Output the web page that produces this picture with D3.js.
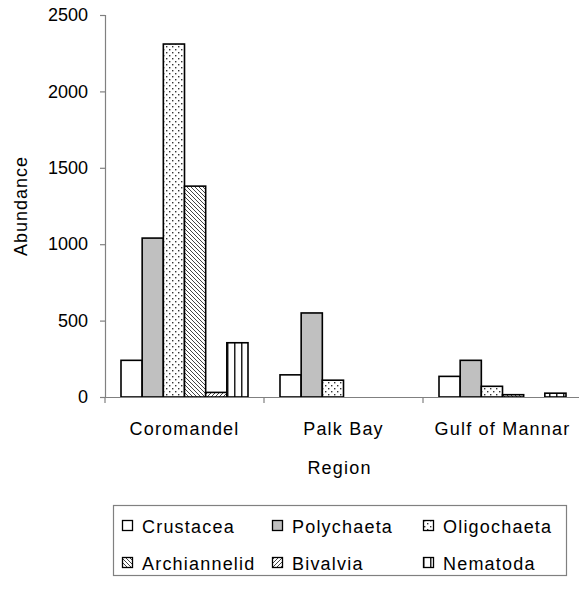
<!DOCTYPE html>
<html>
<head>
<meta charset="utf-8">
<script src="https://cdn.jsdelivr.net/npm/d3@7"></script>
<style>
  html, body { margin: 0; padding: 0; background: #fff; }
  svg text { font-family: "Liberation Sans", Arial, sans-serif; fill: #000; }
</style>
</head>
<body>
<svg id="chart" width="579" height="590"></svg>
<script>
const regions = ["Coromandel", "Palk Bay", "Gulf of Mannar"];
const taxa = ["Crustacea", "Polychaeta", "Oligochaeta", "Archiannelid", "Bivalvia", "Nematoda"];
const crustacea    = [240, 145, 135];
const polychaeta   = [1040, 550, 240];
const oligochaeta  = [2310, 110, 70];
const archiannelid = [1380, 0, 15];
const bivalvia     = [30, 0, 0];
const nematoda     = [355, 0, 25];
const yTicks = [0, 500, 1000, 1500, 2000, 2500];

const series = [crustacea, polychaeta, oligochaeta, archiannelid, bivalvia, nematoda];

(function () {
const svg = d3.select("#chart");
const defs = svg.append("defs");

const pDots = defs.append("pattern").attr("id", "p-olig").attr("patternUnits", "userSpaceOnUse")
  .attr("width", 6).attr("height", 6);
pDots.append("rect").attr("width", 6).attr("height", 6).attr("fill", "#fff");
pDots.append("rect").attr("x", 1).attr("y", 1).attr("width", 1.4).attr("height", 1.4).attr("fill", "#333");
pDots.append("rect").attr("x", 4).attr("y", 4).attr("width", 1.4).attr("height", 1.4).attr("fill", "#333");

const pArch = defs.append("pattern").attr("id", "p-arch").attr("patternUnits", "userSpaceOnUse")
  .attr("width", 4).attr("height", 4);
pArch.append("rect").attr("width", 4).attr("height", 4).attr("fill", "#fff");
pArch.append("path").attr("d", "M-1,-1 L5,5 M-1,3 L1,5 M3,-1 L5,1").attr("stroke", "#444").attr("stroke-width", 1);

const pBiv = defs.append("pattern").attr("id", "p-biv").attr("patternUnits", "userSpaceOnUse")
  .attr("width", 4).attr("height", 4);
pBiv.append("rect").attr("width", 4).attr("height", 4).attr("fill", "#fff");
pBiv.append("path").attr("d", "M-1,5 L5,-1 M-1,1 L1,-1 M3,5 L5,3").attr("stroke", "#444").attr("stroke-width", 1);

const pNem = defs.append("pattern").attr("id", "p-nem").attr("patternUnits", "userSpaceOnUse")
  .attr("width", 7).attr("height", 7);
pNem.append("rect").attr("width", 7).attr("height", 7).attr("fill", "#fff");
pNem.append("rect").attr("x", 3).attr("y", 0).attr("width", 1.5).attr("height", 7).attr("fill", "#222");

const fills = ["#ffffff", "#c0c0c0", "url(#p-olig)", "url(#p-arch)", "url(#p-biv)", "url(#p-nem)"];

const mLeft = 105, mRight = 582, mTop = 15, mBottom = 397;

const y = d3.scaleLinear().domain([0, 2500]).range([mBottom, mTop]);
const x0 = d3.scaleBand().domain(regions).range([mLeft, mRight]).paddingInner(0).paddingOuter(0);
const x1 = d3.scaleBand().domain(taxa).range([16, x0.bandwidth() - 16]).padding(0);

const g = svg.append("g");
regions.forEach((r, ri) => {
  taxa.forEach((t, ti) => {
    const v = series[ti][ri];
    if (v <= 0) return;
    g.append("rect")
      .attr("x", x0(r) + x1(t))
      .attr("y", y(v))
      .attr("width", x1.bandwidth())
      .attr("height", mBottom - y(v))
      .attr("fill", fills[ti])
      .attr("stroke", "#000")
      .attr("stroke-width", 1.6);
  });
});

// y axis
const yAxis = svg.append("g").attr("transform", `translate(${mLeft},0)`)
  .call(d3.axisLeft(y).tickValues(yTicks).tickFormat(d3.format("d")).tickSize(5).tickPadding(12));
yAxis.select(".domain").attr("stroke", "#808080").attr("stroke-width", 1.2);
yAxis.selectAll(".tick line").attr("stroke", "#808080").attr("stroke-width", 1.2);
yAxis.selectAll(".tick text").attr("font-size", 18).attr("fill", "#000")
  .attr("font-family", "Liberation Sans, Arial, sans-serif");

// x axis
const xAxis = svg.append("g").attr("transform", `translate(0,${mBottom})`)
  .call(d3.axisBottom(x0).tickSize(0).tickPadding(0));
xAxis.select(".domain").attr("stroke", "#808080").attr("stroke-width", 1.2);
xAxis.selectAll(".tick text").attr("font-size", 18).attr("fill", "#000")
  .attr("letter-spacing", "1.2px")
  .attr("dy", null).attr("y", 38)
  .attr("font-family", "Liberation Sans, Arial, sans-serif");
const bounds = regions.map(r => x0(r)).concat([mRight]);
xAxis.selectAll(".bnd").data(bounds).enter().append("line")
  .attr("x1", d => d).attr("x2", d => d).attr("y1", 0).attr("y2", 6)
  .attr("stroke", "#808080").attr("stroke-width", 1.2);

// axis titles
svg.append("text").attr("x", (mLeft + mRight) / 2 - 4).attr("y", 474)
  .attr("text-anchor", "middle").attr("font-size", 18).attr("letter-spacing", "1.2px").text("Region");
svg.append("text").attr("transform", `translate(27,${(mTop + mBottom) / 2}) rotate(-90)`)
  .attr("text-anchor", "middle").attr("font-size", 18).attr("letter-spacing", "1px").text("Abundance");

// legend
const lg = svg.append("g");
lg.append("rect").attr("x", 113.5).attr("y", 505.5).attr("width", 453).attr("height", 70)
  .attr("fill", "#fff").attr("stroke", "#808080").attr("stroke-width", 1.2);
const colX = [122, 272, 423];
const rowY = [526, 563];
taxa.forEach((t, i) => {
  const cx = colX[i % 3], cy = rowY[Math.floor(i / 3)];
  lg.append("rect").attr("x", cx + 0.5).attr("y", cy - 5.5).attr("width", 10).attr("height", 10)
    .attr("fill", fills[i]).attr("stroke", "#000").attr("stroke-width", 1.3);
  lg.append("text").attr("x", cx + 20).attr("y", cy + 6.5).attr("font-size", 18)
    .attr("letter-spacing", "1.2px").text(t);
});
})();
</script>
</body>
</html>
